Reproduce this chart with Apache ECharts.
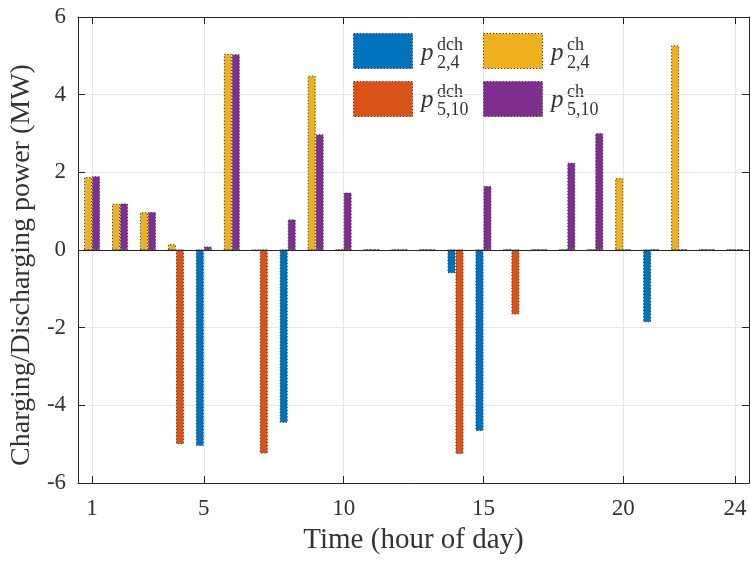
<!DOCTYPE html>
<html>
<head>
<meta charset="utf-8">
<script src="https://cdn.jsdelivr.net/npm/echarts@6/dist/echarts.min.js"></script>
<style>
html,body{margin:0;padding:0;background:#fff;}
#chart{width:751px;height:562px;}
</style>
</head>
<body>
<div id="chart"></div>
<script>
// ---- data ----
const hours = [1,2,3,4,5,6,7,8,9,10,11,12,13,14,15,16,17,18,19,20,21,22,23,24];
const dch24  = [0,0,0,0,-5.05,0,-0.03,-4.45,0,0,0,0,0,-0.6,-4.66,0,0,0,0,0,-1.86,0,0,0];
const dch510 = [0,0,0,-5.0,0,0,-5.24,0,0,0,0,0,0,-5.25,0,-1.66,0,0,0,0,0,0,0,0];
const ch24   = [1.88,1.19,0.97,0.15,0,5.05,0,0,4.49,0,0,0,0,0,0,0,0,0,0,1.85,0,5.27,0,0];
const ch510  = [1.9,1.2,0.98,0,0.09,5.04,0,0.79,2.98,1.48,0,0,0,0,1.65,0,0,2.25,3.01,0,0,0,0,0];
const xTicks = [1,5,10,15,20,24];
const seriesNames = ['dch24','dch510','ch24','ch510'];
const legendSup = ['dch','dch','ch','ch'];
const legendSub = ['2,4','5,10','2,4','5,10'];
const xTitle = 'Time (hour of day)';
const yTitle = 'Charging/Discharging power (MW)';

const colors = ['#0072BD','#D95319','#EDB120','#7E2F8E'];
const FONT = '"Liberation Serif", "Times New Roman", serif';
const TXT = '#333333';
const DOTS = [1.2, 2];

function pairs(arr){ return hours.map((h,i)=>[h, arr[i]]); }

const dataSets = [dch24, dch510, ch24, ch510];
const stacks = ['left','right','left','right'];

const series = seriesNames.map((n,i)=>({
  name: n,
  type: 'bar',
  stack: stacks[i],
  barWidth: 8,
  barGap: '0%',
  data: pairs(dataSets[i]),
  itemStyle: {color: colors[i], borderColor: '#333', borderWidth: 1, borderType: DOTS},
  emphasis: {disabled: true},
  animation: false
}));
// zero baseline
series[0].markLine = {
  silent: true, symbol: ['none','none'], label: {show:false},
  lineStyle: {color: '#262626', width: 1, type: 'solid'},
  data: [{yAxis: 0}], animation: false
};

const chart = echarts.init(document.getElementById('chart'), null, {renderer: 'canvas'});

// legend text as graphic elements (superscript + subscript stacked)
const legCols = [{x:421, rows:[0,1]}, {x:551, rows:[2,3]}];
const graphics = [];
legCols.forEach(col=>{
  col.rows.forEach((si, r)=>{
    const dy = r*47;
    graphics.push({type:'text', left: col.x, top: 41 + dy, silent:true,
      style:{text:'p', font:'italic 25px ' + FONT, fill: TXT}});
    graphics.push({type:'text', left: col.x + 16, top: 36 + dy, silent:true,
      style:{text: legendSup[si], font:'18px ' + FONT, fill: TXT}});
    graphics.push({type:'text', left: col.x + 16, top: 54 + dy, silent:true,
      style:{text: legendSub[si], font:'18px ' + FONT, fill: TXT}});
  });
});

const axisLineStyle = {color: '#262626', width: 1};
const legendCommon = {orient: 'vertical', itemWidth: 59, itemHeight: 35, itemGap: 12,
  formatter: () => '', padding: 0, selectedMode: false, icon: 'rect',
  itemStyle: {borderColor: '#333', borderWidth: 1, borderType: DOTS}};

chart.setOption({
  animation: false,
  backgroundColor: '#fff',
  textStyle: {fontFamily: FONT},
  grid: {left: 78, top: 17, width: 671, height: 466, containLabel: false},
  legend: [
    Object.assign({data: [seriesNames[0], seriesNames[1]], left: 353, top: 33}, legendCommon),
    Object.assign({data: [seriesNames[2], seriesNames[3]], left: 483, top: 33}, legendCommon)
  ],
  xAxis: [
    {type: 'value', min: 0.5, max: 24.5, position: 'bottom',
     axisLine: {show: true, onZero: false, lineStyle: axisLineStyle},
     axisTick: {show: true, inside: true, length: 7, customValues: xTicks, lineStyle: axisLineStyle},
     axisLabel: {show: true, customValues: xTicks, fontSize: 23, color: TXT, margin: 14, fontFamily: FONT},
     splitLine: {show: true, lineStyle: {color: '#e6e6e6', width: 1}},
     name: xTitle, nameLocation: 'middle', nameGap: 43,
     nameTextStyle: {fontSize: 29, color: TXT, fontFamily: FONT}},
    {type: 'value', min: 0.5, max: 24.5, position: 'top',
     axisLine: {show: true, onZero: false, lineStyle: axisLineStyle},
     axisTick: {show: true, inside: true, length: 7, customValues: xTicks, lineStyle: axisLineStyle},
     axisLabel: {show: false}, splitLine: {show: false}}
  ],
  yAxis: [
    {type: 'value', min: -6, max: 6, interval: 2, position: 'left',
     axisLine: {show: true, onZero: false, lineStyle: axisLineStyle},
     axisTick: {show: true, inside: true, length: 7, lineStyle: axisLineStyle},
     axisLabel: {fontSize: 23, color: TXT, margin: 12, fontFamily: FONT},
     splitLine: {show: true, lineStyle: {color: '#e6e6e6', width: 1}},
     name: yTitle, nameLocation: 'middle', nameGap: 37, nameRotate: 90,
     nameTextStyle: {fontSize: 28, color: TXT, fontFamily: FONT, padding: [0, 30, 0, 0]}},
    {type: 'value', min: -6, max: 6, interval: 2, position: 'right',
     axisLine: {show: true, onZero: false, lineStyle: axisLineStyle},
     axisTick: {show: true, inside: true, length: 7, lineStyle: axisLineStyle},
     axisLabel: {show: false}, splitLine: {show: false}}
  ],
  graphic: graphics,
  series: series
});
</script>
</body>
</html>
